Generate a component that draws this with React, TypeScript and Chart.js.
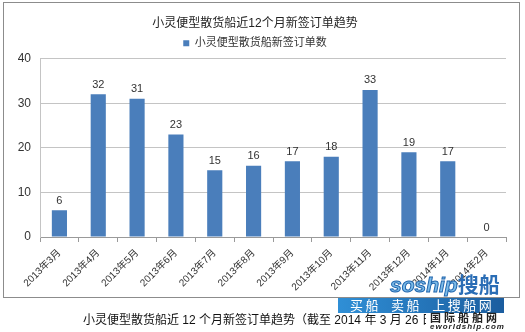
import React, { useEffect, useRef } from "react";
import { Chart, registerables } from "chart.js";

Chart.register(...registerables);

const categories = [
  "2013年3月", "2013年4月", "2013年5月", "2013年6月", "2013年7月", "2013年8月",
  "2013年9月", "2013年10月", "2013年11月", "2013年12月", "2014年1月", "2014年2月",
];
const orderCounts = [6, 32, 31, 23, 15, 16, 17, 18, 33, 19, 17, 0];
const seriesName = "小灵便型散货船新签订单数";
const chartTitle = "小灵便型散货船近12个月新签订单趋势";
const caption = "小灵便型散货船近 12 个月新签订单趋势（截至 2014 年 3 月 26 日）";
const yTicks = [0, 10, 20, 30, 40];

const FONT = "'Liberation Sans', 'Noto Sans CJK SC', sans-serif";

const dataLabels = {
  id: "dataLabels",
  afterDatasetsDraw(chart: any) {
    const { ctx } = chart;
    const meta = chart.getDatasetMeta(0);
    ctx.save();
    ctx.font = `11px ${FONT}`;
    ctx.fillStyle = "#333333";
    ctx.textAlign = "center";
    ctx.textBaseline = "bottom";
    meta.data.forEach((el: any, i: number) => {
      ctx.fillText(String(chart.data.datasets[0].data[i]), el.x, el.y - 4);
    });
    ctx.restore();
  },
};

export default function App() {
  const ref = useRef<HTMLCanvasElement>(null);
  useEffect(() => {
    if (!ref.current) return;
    const chart = new Chart(ref.current, {
      type: "bar",
      data: {
        labels: categories,
        datasets: [
          {
            label: seriesName,
            data: orderCounts,
            backgroundColor: "#4A7EBB",
            categoryPercentage: 1,
            barPercentage: 0.39,
          },
        ],
      },
      options: {
        animation: false,
        responsive: false,
        devicePixelRatio: 1,
        layout: { padding: { top: 15, left: 4, right: 19, bottom: 35 } },
        plugins: {
          title: {
            display: true,
            text: chartTitle,
            color: "#222222",
            font: { family: FONT, size: 12, weight: "normal" },
            padding: { top: 1, bottom: 3.3 },
          },
          legend: {
            display: true,
            labels: {
              boxWidth: 6,
              boxHeight: 6,
              padding: 4,
              color: "#333333",
              font: { family: FONT, size: 11 },
            },
          },
          tooltip: { enabled: false },
        },
        scales: {
          x: {
            afterFit: (s: any) => { s.height = 60; },
            grid: {
              display: true,
              drawOnChartArea: false,
              drawTicks: true,
              tickLength: 5,
              color: "#9a9a9a",
            },
            border: { display: true, color: "#9a9a9a" },
            ticks: {
              maxRotation: 45,
              minRotation: 45,
              autoSkip: false,
              padding: 5,
              color: "#333333",
              font: { family: FONT, size: 10 },
            },
          },
          y: {
            min: 0,
            max: 40,
            afterFit: (s: any) => { s.width = 36; },
            afterBuildTicks: (s: any) => { s.ticks = yTicks.map((v) => ({ value: v })); },
            grid: { color: "#c4c4c4", drawTicks: false },
            border: { display: true, color: "#c4c4c4" },
            ticks: {
              padding: 9,
              color: "#333333",
              font: { family: FONT, size: 12 },
            },
          },
        },
      },
      plugins: [dataLabels],
    });
    return () => chart.destroy();
  }, []);

  return (
    <div style={{ position: "fixed", left: 0, top: 0, width: 525, height: 332, background: "#ffffff", overflow: "hidden" }}>
      <div style={{ position: "absolute", left: 3, top: 2, width: 515, height: 294, border: "1px solid #8c8c8c" }} />
      <canvas ref={ref} width={525} height={332} style={{ position: "absolute", left: 0, top: 0, width: 525, height: 332 }} />
      <div style={{ position: "absolute", left: 0, top: 310, width: 525, textAlign: "left", paddingLeft: 83, boxSizing: "border-box", fontFamily: FONT, fontSize: 12, color: "#111", whiteSpace: "nowrap" }}>
        {caption}
      </div>
      <div style={{ position: "absolute", left: 390, top: 274, fontFamily: FONT, fontSize: 21, fontWeight: "bold", whiteSpace: "nowrap", lineHeight: "22px" }}>
        <span style={{ fontStyle: "italic", color: "#7bbbe8", WebkitTextStroke: "1px #2166ae" }}>soship</span>
        <span style={{ color: "#2a6db5" }}>搜船</span>
      </div>
      <div style={{ position: "absolute", left: 338, top: 298, width: 166, height: 15, background: "linear-gradient(to right, #2f8fd6, #1b5d9f)", color: "#fff", fontFamily: FONT, fontSize: 13, lineHeight: "15px", whiteSpace: "nowrap", paddingLeft: 12, boxSizing: "border-box", letterSpacing: 2.5, wordSpacing: 4, overflow: "hidden" }}>
        买船 卖船 上搜船网
      </div>
      <div style={{ position: "absolute", left: 426, top: 313, width: 99, height: 19, background: "#fff" }} />
      <div style={{ position: "absolute", left: 430, top: 312, fontFamily: FONT, fontSize: 11, fontWeight: "bold", color: "#222", whiteSpace: "nowrap", lineHeight: "12px", letterSpacing: 3 }}>
        国际船舶网
      </div>
      <div style={{ position: "absolute", left: 430, top: 322, fontFamily: FONT, fontSize: 8, fontWeight: "bold", fontStyle: "italic", color: "#222", whiteSpace: "nowrap", lineHeight: "9px", letterSpacing: 1 }}>
        eworldship.com
      </div>
    </div>
  );
}
